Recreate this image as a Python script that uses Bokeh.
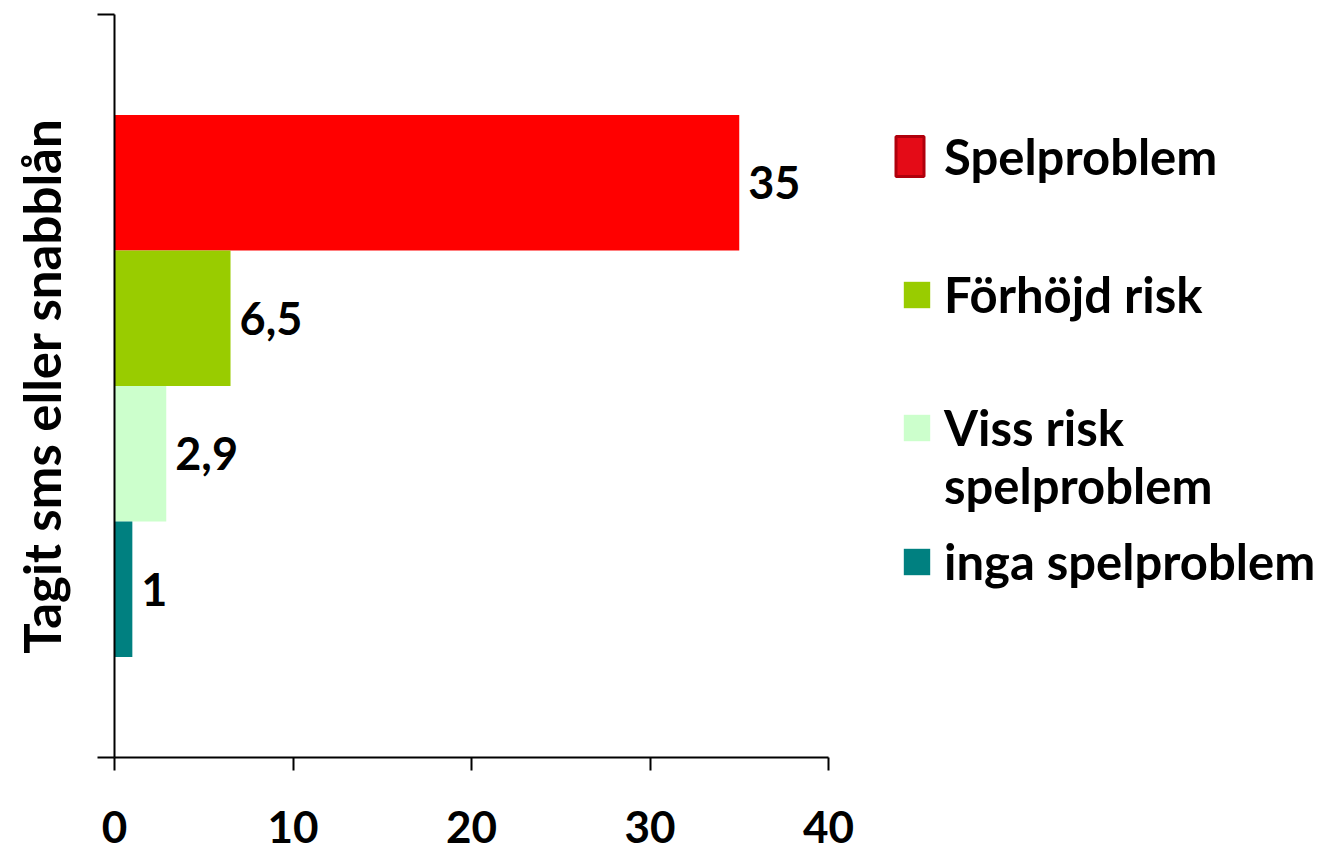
from bokeh.plotting import figure
from bokeh.models import ColumnDataSource, Legend, LegendItem, FixedTicker, Range1d, CDSView, IndexFilter
from bokeh.embed import file_html
from bokeh.resources import INLINE
from bokeh.core.properties import value

# ---- data ----
categories = ["Spelproblem", "Förhöjd risk", "Viss risk spelproblem", "inga spelproblem"]
legend_lines = [["Spelproblem"], ["Förhöjd risk"], ["Viss risk", "spelproblem"], ["inga spelproblem"]]
values = [35, 6.5, 2.9, 1]
value_labels = ["35", "6,5", "2,9", "1"]
colors = ["#FF0000", "#99CC00", "#CCFFCC", "#008080"]
axis_title = "Tagit sms eller snabblån"
x_ticks = [0, 10, 20, 30, 40]
x_axis_max = 40

FONT = "Lato"

# ---- layout ----
W, H = 1330, 856
LEFT, TOP, BOTTOM = 114, 14, 99
AXIS_PX = 714                      # pixel length of the 0..40 axis
x_view_max = x_axis_max * (W - LEFT) / AXIS_PX   # frame extends right to hold the legend

n = len(values)
bar_h = 0.1824
ys = [0.5 + ((n - 1) / 2 - i) * bar_h for i in range(n)]

src = ColumnDataSource(dict(y=ys, v=values, lab=value_labels, c=colors, cat=categories))

p = figure(width=W, height=H, x_range=Range1d(0, x_view_max), y_range=Range1d(0, 1),
           output_backend="svg", toolbar_location=None,
           min_border_left=LEFT, min_border_top=TOP, min_border_bottom=BOTTOM, min_border_right=0)
p.outline_line_color = None
p.xgrid.visible = False
p.ygrid.visible = False
p.background_fill_color = "white"

bars = p.hbar(y="y", left=0, right="v", height=bar_h, fill_color="c", line_color=None, source=src)

p.text(x="v", y="y", text="lab", source=src, x_offset=9, text_align="left", text_baseline="middle",
       text_font=value(FONT), text_font_style="bold", text_font_size="45px", text_color="black")

# x axis
xa = p.xaxis[0]
xa.bounds = (0, x_axis_max)
xa.ticker = FixedTicker(ticks=x_ticks)
xa.major_tick_in = 0
xa.major_tick_out = 13
xa.minor_tick_out = 0
xa.minor_tick_in = 0
xa.axis_line_width = 2
xa.axis_line_color = "black"
xa.major_tick_line_width = 2
xa.major_tick_line_color = "black"
xa.major_label_standoff = 40
xa.major_label_text_font = FONT
xa.major_label_text_font_style = "bold"
xa.major_label_text_font_size = "44px"
xa.major_label_text_color = "black"

# y axis
ya = p.yaxis[0]
ya.ticker = FixedTicker(ticks=[0, 1])
ya.major_label_overrides = {0: "", 1: ""}
ya.major_tick_in = 0
ya.major_tick_out = 17
ya.minor_tick_out = 0
ya.minor_tick_in = 0
ya.axis_line_width = 2
ya.axis_line_color = "black"
ya.major_tick_line_width = 2
ya.major_tick_line_color = "black"
ya.major_label_standoff = 0
ya.axis_label = axis_title
ya.axis_label_standoff = 26
ya.axis_label_text_font = FONT
ya.axis_label_text_font_style = "bold"
ya.axis_label_text_font_size = "51px"
ya.axis_label_text_color = "black"

# legend keys
red_key = p.hbar(y="y", left=0, right="v", height=bar_h, source=src,
                 view=CDSView(filter=IndexFilter([0])),
                 fill_color="#E40B17", line_color="#B0000C", line_width=3, visible=False)
empty = ColumnDataSource(dict(y=[], v=[]))
blank_key = p.hbar(y="y", left=0, right="v", height=bar_h, source=empty,
                   fill_color=None, line_color=None)

def make_legend(label, renderer, idx, loc, gw, gh, standoff):
    item = LegendItem(label=label, renderers=[renderer], index=idx)
    lg = Legend(items=[item], location=loc, orientation="vertical",
                label_text_font=FONT, label_text_font_style="bold", label_text_font_size="49px",
                label_text_color="black", glyph_width=gw, glyph_height=gh, label_standoff=standoff,
                padding=0, margin=0, border_line_color=None, background_fill_alpha=0,
                inactive_fill_alpha=0, click_policy="none")
    p.add_layout(lg)
    return lg

make_legend(legend_lines[0][0], red_key, 0, (778, 572), 35, 50, 17)
make_legend(legend_lines[1][0], bars, 1, (786, 434), 33, 33, 11)
make_legend(legend_lines[2][0], bars, 2, (786, 301), 33, 33, 11)
make_legend(legend_lines[2][1], blank_key, None, (786, 243), 33, 33, 11)
make_legend(legend_lines[3][0], bars, 3, (786, 167), 33, 33, 11)

open("out.html", "w").write(file_html(p, INLINE))
